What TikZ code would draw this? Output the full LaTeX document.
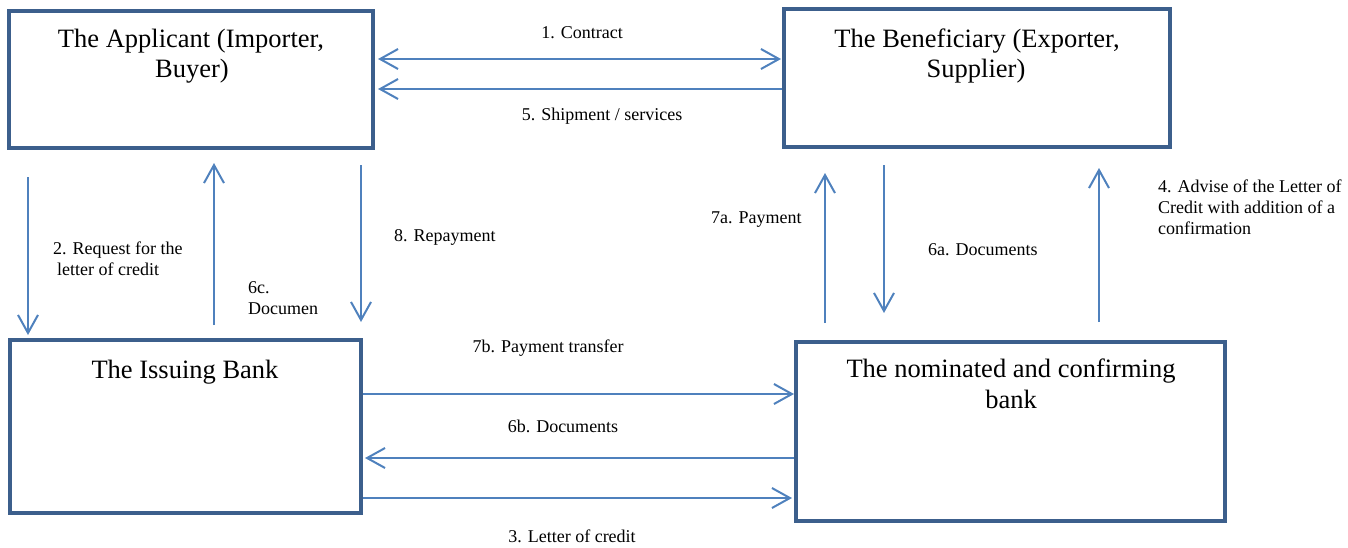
\documentclass[tikz,border=0pt]{standalone}
\usepackage{fontspec}
\setmainfont{Liberation Serif}
\usetikzlibrary{arrows.meta}
\definecolor{boxc}{RGB}{60,95,140}
\definecolor{arrowc}{RGB}{79,129,189}
\tikzset{
  box/.style={draw=boxc, line width=4pt, fill=white, inner sep=0pt},
  bigtxt/.style={anchor=base, inner sep=0pt, font=\fontsize{26.5}{30}\selectfont},
  lbl/.style={anchor=base, inner sep=0pt, font=\fontsize{18}{21.5}\selectfont},
  lblw/.style={anchor=base west, inner sep=0pt, font=\fontsize{18}{21.5}\selectfont},
  arr/.style={draw=arrowc, line width=2pt, -{Straight Barb[length=18pt,width=20pt]}},
  arrb/.style={draw=arrowc, line width=2pt, {Straight Barb[length=18pt,width=20pt]}-{Straight Barb[length=18pt,width=20pt]}}
}
\begin{document}
\begin{tikzpicture}[x=1pt,y=-1pt]
\useasboundingbox (0,0) rectangle (1348,547);
% boxes
\node[box, minimum width=364pt, minimum height=137pt] (app) at (191,79.5) {};
\node[box, minimum width=386pt, minimum height=138pt] (ben) at (977,78) {};
\node[box, minimum width=351pt, minimum height=173pt] (iss) at (185.5,426.5) {};
\node[box, minimum width=429pt, minimum height=179pt] (nom) at (1010.5,431.5) {};
% box texts
\node[bigtxt] (appt1) at (191,47) {The Applicant (Importer,};
\node[bigtxt] (appt2) at (192,77) {Buyer)};
\node[bigtxt] (bent1) at (977,47) {The Beneficiary (Exporter,};
\node[bigtxt] (bent2) at (976,77) {Supplier)};
\node[bigtxt] (isst1) at (185,378) {The Issuing Bank};
\node[bigtxt] (nomt1) at (1011,377) {The nominated and confirming};
\node[bigtxt] (nomt2) at (1011,408) {bank};
% top horizontal arrows
\draw[arrb, shorten <=3pt, shorten >=1pt] (app.east |- 0,59) -- (ben.west |- 0,59);
\draw[arr, shorten <=0pt, shorten >=3pt] (ben.west |- 0,89) -- (app.east |- 0,89);
\node[lbl] (l1) at (582,38) {1. Contract};
\node[lbl] (l5) at (602,120) {5. Shipment / services};
% left vertical arrows
\draw[arr, shorten <=27pt, shorten >=3pt] (app.south -| 28,0) -- (iss.north -| 28,0);
\draw[arr, shorten <=13pt, shorten >=13pt] (iss.north -| 214,0) -- (app.south -| 214,0);
\draw[arr, shorten <=15pt, shorten >=16pt] (app.south -| 361,0) -- (iss.north -| 361,0);
\node[lblw] (l2a) at (53,254) {2. Request for the};
\node[lblw] (l2b) at (57,275) {letter of credit};
\node[lblw] (l6ca) at (248,293) {6c.};
\node[lblw] (l6cb) at (248,314) {Documen};
\node[lblw] (l8) at (394,241) {8. Repayment};
% right vertical arrows
\draw[arr, shorten <=17pt, shorten >=24pt] (nom.north -| 825,0) -- (ben.south -| 825,0);
\draw[arr, shorten <=16pt, shorten >=27pt] (ben.south -| 884,0) -- (nom.north -| 884,0);
\draw[arr, shorten <=18pt, shorten >=19pt] (nom.north -| 1099,0) -- (ben.south -| 1099,0);
\node[lblw] (l7a) at (711,223) {7a. Payment};
\node[lblw] (l6a) at (928,255) {6a. Documents};
\node[lblw] (l4a) at (1158,192) {4. Advise of the Letter of};
\node[lblw] (l4b) at (1158,213) {Credit with addition of a};
\node[lblw] (l4c) at (1158,234) {confirmation};
% bottom horizontal arrows
\draw[arr, shorten >=0pt] (iss.east |- 0,394) -- (nom.west |- 0,394);
\draw[arr, shorten >=2pt] (nom.west |- 0,458) -- (iss.east |- 0,458);
\draw[arr, shorten >=2pt] (iss.east |- 0,498) -- (nom.west |- 0,498);
\node[lbl] (l7b) at (548,352) {7b. Payment transfer};
\node[lbl] (l6b) at (563,432) {6b. Documents};
\node[lbl] (l3) at (572,542) {3. Letter of credit};
\end{tikzpicture}
\end{document}
